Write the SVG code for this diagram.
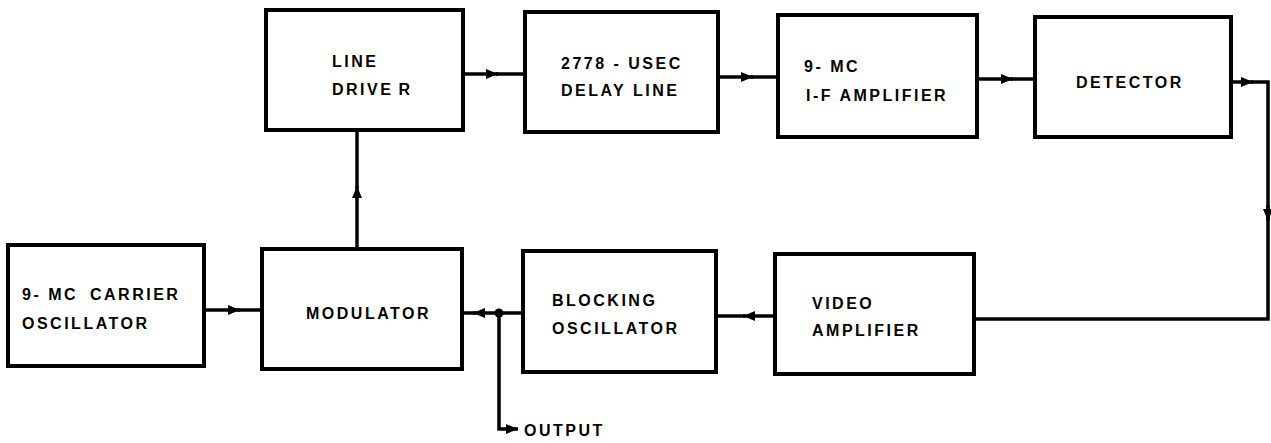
<svg xmlns="http://www.w3.org/2000/svg" width="1271" height="443" viewBox="0 0 1271 443">
<style>
.box{fill:#fff;stroke:#000;stroke-width:4}
.lbl{font-family:"Liberation Sans",Arial,sans-serif;font-weight:bold;font-size:16px;letter-spacing:2.5px;fill:#000}
.wire{fill:none;stroke:#000;stroke-width:3.5}
</style>
<defs>
<marker id="ah" viewBox="0 0 12 10" refX="12" refY="5" markerWidth="13" markerHeight="10" markerUnits="userSpaceOnUse" orient="auto">
<path d="M0,0 L12,5 L0,10 Z" fill="#000"/>
</marker>
</defs>
<rect width="1271" height="443" fill="#fff"/>
<g id="connectors">
<path class="wire" d="M463,74 L498,74" marker-end="url(#ah)"/><path class="wire" d="M496,74 L525,74"/>
<path class="wire" d="M718,77 L753,77" marker-end="url(#ah)"/><path class="wire" d="M751,77 L778,77"/>
<path class="wire" d="M977,79 L1013,79" marker-end="url(#ah)"/><path class="wire" d="M1011,79 L1035,79"/>
<path class="wire" d="M1231,82 L1253,82" marker-end="url(#ah)"/><path class="wire" d="M1251,82 L1268,82 L1268,220"/>
<path class="wire" d="M1268,205 L1268,221" marker-end="url(#ah)"/>
<path class="wire" d="M1268,218 L1268,319 L974,319"/>
<path class="wire" d="M775,316 L743,316" marker-end="url(#ah)"/><path class="wire" d="M745,316 L716,316"/>
<path class="wire" d="M523,313 L473,313" marker-end="url(#ah)"/><path class="wire" d="M475,313 L462,313"/>
<circle cx="499" cy="313" r="4.5" fill="#000"/>
<path class="wire" d="M499,313 L499,429 L518,429" marker-end="url(#ah)"/>
<path class="wire" d="M204,310 L240,310" marker-end="url(#ah)"/><path class="wire" d="M238,310 L262,310"/>
<path class="wire" d="M357,249 L357,186" marker-end="url(#ah)"/><path class="wire" d="M357,188 L357,130"/>
</g>
<g id="line-driver"><rect class="box" x="266" y="10" width="197" height="120"/>
<text class="lbl" x="332" y="67">LINE</text><text class="lbl" x="332" y="95">DRIVE<tspan dx="5">R</tspan></text></g>
<g id="delay-line"><rect class="box" x="525" y="12" width="193" height="120"/>
<text class="lbl" x="561" y="69">2778 - USEC</text><text class="lbl" x="561" y="96">DELAY LINE</text></g>
<g id="if-amplifier"><rect class="box" x="778" y="15" width="199" height="122"/>
<text class="lbl" x="804" y="72">9- MC</text><text class="lbl" x="806" y="101">I-F AMPLIFIER</text></g>
<g id="detector"><rect class="box" x="1035" y="17" width="196" height="120"/>
<text class="lbl" x="1076" y="88">DETECTOR</text></g>
<g id="carrier-oscillator"><rect class="box" x="8" y="245" width="196" height="121"/>
<text class="lbl" x="22" y="300">9- MC <tspan dx="5">CARRIER</tspan></text><text class="lbl" x="22" y="329">OSCILLATOR</text></g>
<g id="modulator"><rect class="box" x="262" y="249" width="200" height="120"/>
<text class="lbl" x="306" y="319">MODULATOR</text></g>
<g id="blocking-oscillator"><rect class="box" x="523" y="251" width="193" height="121"/>
<text class="lbl" x="552" y="306">BLOCKING</text><text class="lbl" x="552" y="334">OSCILLATOR</text></g>
<g id="video-amplifier"><rect class="box" x="775" y="254" width="199" height="120"/>
<text class="lbl" x="812" y="309">VIDEO</text><text class="lbl" x="812" y="336">AMPLIFIER</text></g>
<text class="lbl" x="524" y="436">OUTPUT</text>
</svg>
